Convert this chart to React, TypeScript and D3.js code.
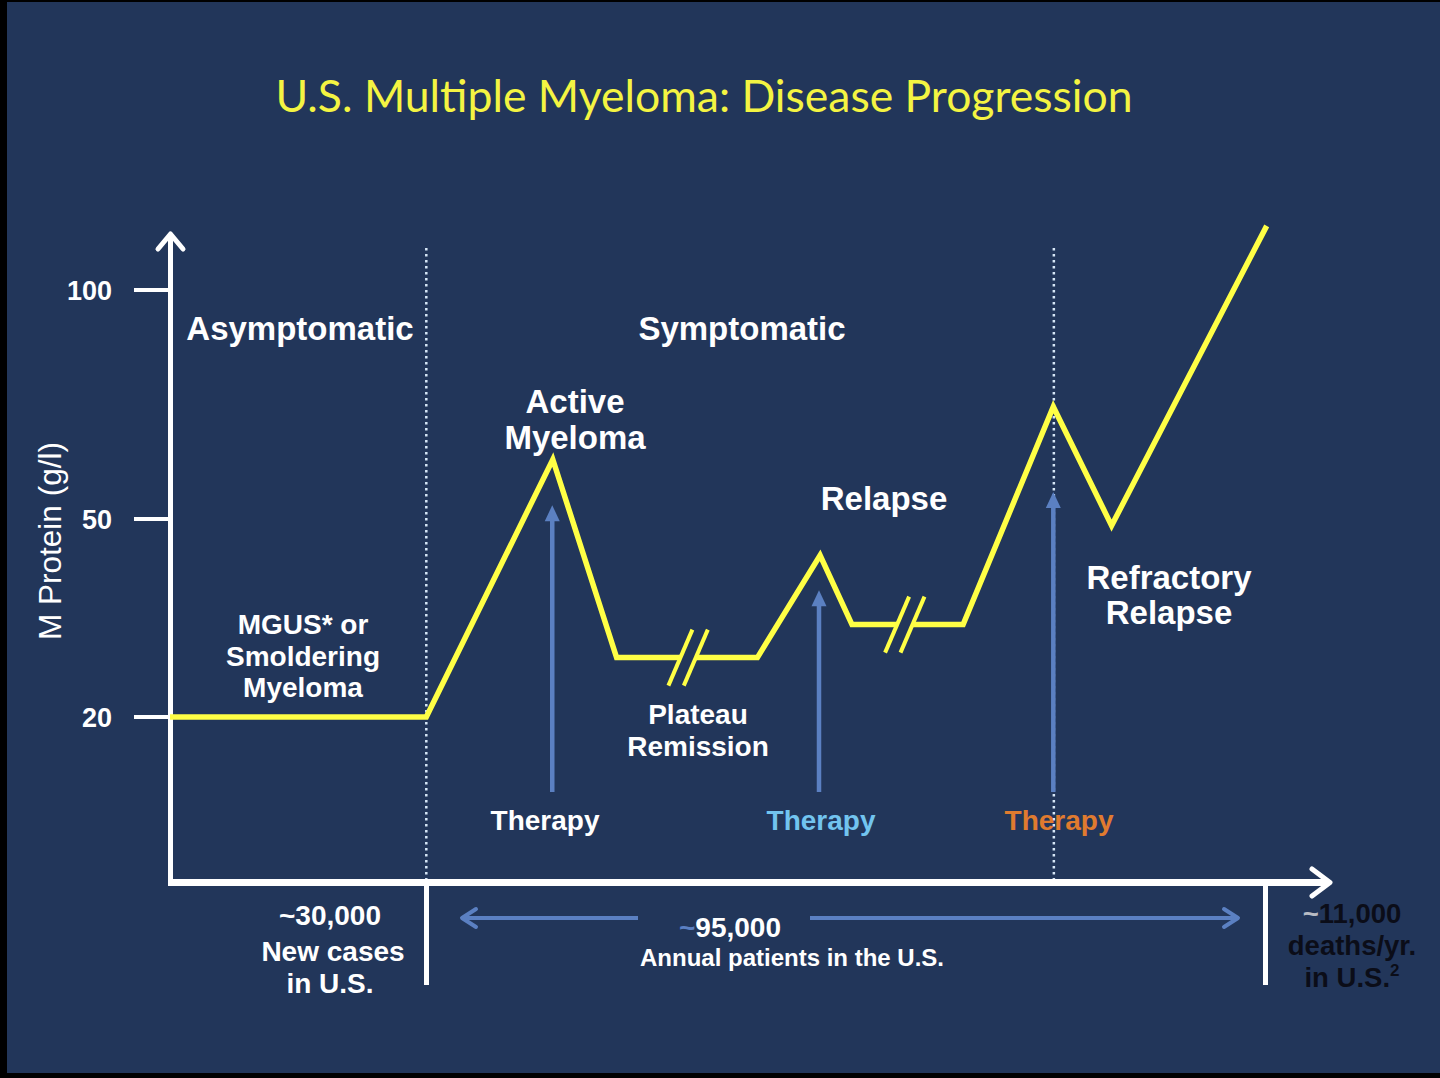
import React from "react";
import * as d3 from "d3";

// schematic disease course: time (arbitrary units) vs M protein (g/l)
const courseT = [0, 23.3, 34.8, 40.6, 46.4, 47.8, 53.4, 59.1, 62, 66.1, 67.5, 72.1, 80.3, 85.6, 99.7];
const courseM = [20, 20, 63, 29, 29, 29, 29, 44.5, 34, 34, 34, 34, 74.5, 49, 114];
const breakAfter = [4, 9]; // line is cut between these point pairs

const yTicks = [20, 50, 100];
const dividerT = [23.3, 80.35];

const therapyT = [34.75, 59.0, 80.3];
const therapyTop = [53, 39.2, 55.9];
const therapyBase = 10.9;
const therapyColors = ["#ffffff", "#72c4ef", "#e07b2f"];
const therapyLabelX = [545, 821, 1059];

const BG = "#22365a";
const YELLOW = "#ffff45";
const ARROW_BLUE = "#5b80c2";
const BOLD = "'Liberation Sans', Arial, sans-serif";

const App = () => {
  const x = d3.scaleLinear().domain([0, 100]).range([170, 1270]);
  const y = d3.scaleLinear().domain([0, 20, 50, 100]).range([882, 717, 519, 290]);

  const pts = courseT.map((t, i) => ({ t, m: courseM[i], i }));
  const line = d3.line<{ t: number; m: number }>()
    .x(d => x(d.t))
    .y(d => y(d.m));

  // split into segments at the axis breaks
  const segments: { t: number; m: number }[][] = [];
  let start = 0;
  breakAfter.concat([pts.length - 1]).forEach(b => {
    segments.push(pts.slice(start, b + 1));
    start = b + 1;
  });

  const breakMarks = breakAfter.flatMap(b => [pts[b], pts[b + 1]]);

  const whiteText = { fill: "#fff", fontFamily: BOLD, fontWeight: 700 } as const;

  return (
    <div style={{ position: "fixed", left: 0, top: 0 }}>
      <svg width={1440} height={1078} style={{ display: "block" }}>
        <rect width={1440} height={1078} fill="#000" />
        <rect x={7} y={2} width={1433} height={1071} fill={BG} />

        <text x={704} y={112} textAnchor="middle" fill="#f4f442"
          style={{ fontFamily: "Lato, 'Open Sans', sans-serif", fontSize: 44.5 }}>
          U.S. Multiple Myeloma: Disease Progression
        </text>

        {/* dotted phase dividers */}
        {dividerT.map((t, i) => (
          <line key={i} x1={x(t)} x2={x(t)} y1={248} y2={880}
            stroke="#d6e6f6" strokeWidth={2.5} strokeDasharray="2.5 3.5" />
        ))}

        {/* therapy arrows */}
        {therapyT.map((t, i) => {
          const cx = x(t);
          const top = y(therapyTop[i]);
          return (
            <g key={i}>
              <line x1={cx} x2={cx} y1={y(therapyBase)} y2={top + 14}
                stroke={ARROW_BLUE} strokeWidth={4.5} />
              <path d={`M${cx},${top} L${cx - 7.5},${top + 16} L${cx + 7.5},${top + 16} Z`} fill={ARROW_BLUE} />
            </g>
          );
        })}

        {/* axes */}
        <line x1={170.5} x2={170.5} y1={234} y2={884} stroke="#fff" strokeWidth={5} />
        <path d="M158,249 L170.5,234 L183,249" fill="none" stroke="#fff" strokeWidth={5} strokeLinecap="round" strokeLinejoin="round" />
        <line x1={168} x2={1328} y1={882.5} y2={882.5} stroke="#fff" strokeWidth={7} />
        <path d="M1312,869 L1330,882.5 L1312,896" fill="none" stroke="#fff" strokeWidth={5} strokeLinecap="round" strokeLinejoin="round" />
        <line x1={426.5} x2={426.5} y1={882} y2={985} stroke="#fff" strokeWidth={5} />
        <line x1={1265.5} x2={1265.5} y1={882} y2={985} stroke="#fff" strokeWidth={5} />

        {yTicks.map(v => (
          <g key={v}>
            <line x1={134} x2={170} y1={y(v)} y2={y(v)} stroke="#fff" strokeWidth={4} />
            <text x={112} y={y(v) + 10} textAnchor="end" style={{ ...whiteText, fontSize: 27 }}>{v}</text>
          </g>
        ))}

        <text transform="translate(61,541) rotate(-90)" textAnchor="middle" fill="#fff"
          style={{ fontFamily: "'Liberation Sans', Arial, sans-serif", fontSize: 31.5 }}>
          M Protein (g/l)
        </text>

        {/* disease course */}
        {segments.map((s, i) => (
          <path key={i} d={line(s) || ""} fill="none" stroke={YELLOW} strokeWidth={5.5}
            strokeLinejoin="miter" strokeMiterlimit={10} />
        ))}
        {breakMarks.map((p, i) => (
          <line key={i} x1={x(p.t) - 12} y1={y(p.m) + 28} x2={x(p.t) + 12} y2={y(p.m) - 28}
            stroke={YELLOW} strokeWidth={4} />
        ))}

        {/* phase labels */}
        <g style={{ ...whiteText, fontSize: 33 }} textAnchor="middle" fill="#fff">
          <text x={300} y={340}>Asymptomatic</text>
          <text x={742} y={340}>Symptomatic</text>
          <text x={575} y={413}>Active</text>
          <text x={575} y={449}>Myeloma</text>
          <text x={884} y={510}>Relapse</text>
          <text x={1169} y={589}>Refractory</text>
          <text x={1169} y={624}>Relapse</text>
        </g>
        <g style={{ ...whiteText, fontSize: 28 }} textAnchor="middle" fill="#fff">
          <text x={303} y={634}>MGUS* or</text>
          <text x={303} y={666}>Smoldering</text>
          <text x={303} y={697}>Myeloma</text>
          <text x={698} y={724}>Plateau</text>
          <text x={698} y={756}>Remission</text>
        </g>

        {therapyLabelX.map((lx, i) => (
          <text key={i} x={lx} y={830} textAnchor="middle"
            style={{ fontFamily: BOLD, fontWeight: 700, fontSize: 28, fill: therapyColors[i] }}>
            Therapy
          </text>
        ))}

        {/* bottom annotations */}
        <g style={{ ...whiteText, fontSize: 28 }} textAnchor="middle" fill="#fff">
          <text x={330} y={925}>~30,000</text>
          <text x={333} y={961}>New cases</text>
          <text x={330} y={993}>in U.S.</text>
          <text x={730} y={937}><tspan fill={ARROW_BLUE}>~</tspan>95,000</text>
        </g>
        <text x={792} y={966} textAnchor="middle" style={{ ...whiteText, fontSize: 24 }}>
          Annual patients in the U.S.
        </text>

        <line x1={462} x2={638} y1={918} y2={918} stroke={ARROW_BLUE} strokeWidth={4} />
        <path d="M476,909 L462,918 L476,927" fill="none" stroke={ARROW_BLUE} strokeWidth={4} strokeLinecap="round" strokeLinejoin="round" />
        <line x1={810} x2={1238} y1={918} y2={918} stroke={ARROW_BLUE} strokeWidth={4} />
        <path d="M1224,909 L1238,918 L1224,927" fill="none" stroke={ARROW_BLUE} strokeWidth={4} strokeLinecap="round" strokeLinejoin="round" />

        <g style={{ fontFamily: BOLD, fontWeight: 700, fontSize: 27.5 }} textAnchor="middle" fill="#0b0d18">
          <text x={1352} y={923}><tspan fill="#b9bcc4">~</tspan>11,000</text>
          <text x={1352} y={955}>deaths/yr.</text>
          <text x={1352} y={987}>in U.S.<tspan fontSize={17} dy={-11}>2</tspan></text>
        </g>
      </svg>
    </div>
  );
};

export default App;
